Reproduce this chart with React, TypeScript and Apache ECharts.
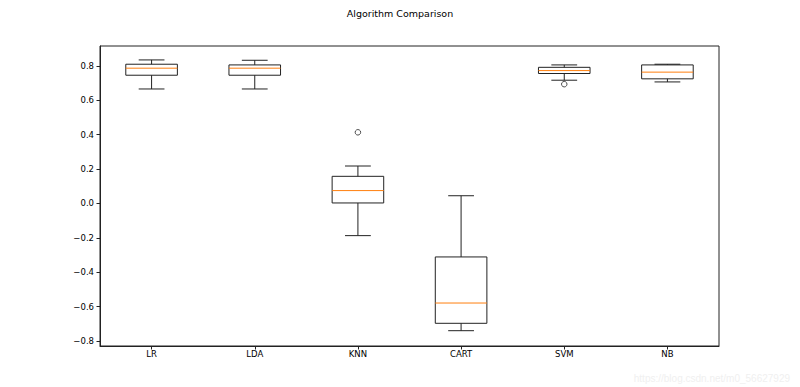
import React, { useEffect, useRef } from "react";
import * as echarts from "echarts";

const categories = ["LR", "LDA", "KNN", "CART", "SVM", "NB"];
// [whisker low, Q1, median, Q3, whisker high]
const lowWhisker = [0.666, 0.666, -0.187, -0.74, 0.717, 0.707];
const q1 = [0.746, 0.746, 0.003, -0.697, 0.756, 0.725];
const median = [0.787, 0.787, 0.075, -0.579, 0.773, 0.764];
const q3 = [0.81, 0.806, 0.158, -0.311, 0.792, 0.806];
const highWhisker = [0.835, 0.833, 0.218, 0.045, 0.806, 0.81];
const outliers: [string, number][] = [
  ["KNN", 0.414],
  ["SVM", 0.694],
];
const yTicks = [-0.8, -0.6, -0.4, -0.2, 0.0, 0.2, 0.4, 0.6, 0.8];

const FONT = "DejaVu Sans";

export default function App() {
  const ref = useRef<HTMLDivElement>(null);
  useEffect(() => {
    if (!ref.current) return;
    const chart = echarts.init(ref.current, null, { renderer: "svg" });
    const boxData = categories.map((_, i) => [
      i,
      lowWhisker[i],
      q1[i],
      median[i],
      q3[i],
      highWhisker[i],
    ]);
    const lineStyle = { stroke: "#222", lineWidth: 1, fill: "none" };
    chart.setOption({
      animation: false,
      backgroundColor: "#fff",
      title: {
        text: "Algorithm Comparison",
        left: "center",
        top: 3,
        textStyle: { fontFamily: FONT, fontSize: 9.5, fontWeight: "normal", color: "#000" },
      },
      grid: {
        left: 100,
        right: 81,
        top: 46,
        bottom: 41,
        show: true,
        borderColor: "#222",
        borderWidth: 1,
        backgroundColor: "transparent",
      },
      xAxis: {
        type: "category",
        data: categories,
        boundaryGap: true,
        axisLine: { show: true, onZero: false, lineStyle: { color: "#222", width: 1 } },
        axisTick: { show: true, alignWithLabel: true, length: 3.5, lineStyle: { color: "#222" } },
        axisLabel: { color: "#000", fontFamily: FONT, fontSize: 8.5, margin: 3 },
        splitLine: { show: false },
      },
      yAxis: {
        type: "value",
        min: -0.829,
        max: 0.916,
        axisLine: { show: true, lineStyle: { color: "#222", width: 1 } },
        axisTick: { show: true, length: 3.5, customValues: yTicks, lineStyle: { color: "#222" } },
        axisLabel: {
          color: "#000",
          fontFamily: FONT,
          fontSize: 8.5,
          margin: 6,
          customValues: yTicks,
          formatter: (v: number) => v.toFixed(1).replace("-", "\u2212"),
        },
        splitLine: { show: false },
      },
      series: [
        {
          type: "custom",
          data: boxData,
          encode: { x: 0, y: [1, 2, 3, 4, 5] },
          renderItem: (params: any, api: any) => {
            const idx = api.value(0);
            const lo = api.coord([idx, api.value(1)]);
            const b1 = api.coord([idx, api.value(2)]);
            const md = api.coord([idx, api.value(3)]);
            const b3 = api.coord([idx, api.value(4)]);
            const hi = api.coord([idx, api.value(5)]);
            const bw = api.size([1, 0])[0] * 0.5;
            const cw = bw * 0.5;
            const cx = lo[0];
            return {
              type: "group",
              children: [
                { type: "line", shape: { x1: cx, y1: hi[1], x2: cx, y2: b3[1] }, style: lineStyle },
                { type: "line", shape: { x1: cx, y1: b1[1], x2: cx, y2: lo[1] }, style: lineStyle },
                { type: "line", shape: { x1: cx - cw / 2, y1: hi[1], x2: cx + cw / 2, y2: hi[1] }, style: lineStyle },
                { type: "line", shape: { x1: cx - cw / 2, y1: lo[1], x2: cx + cw / 2, y2: lo[1] }, style: lineStyle },
                {
                  type: "rect",
                  shape: { x: cx - bw / 2, y: b3[1], width: bw, height: b1[1] - b3[1] },
                  style: lineStyle,
                },
                {
                  type: "line",
                  shape: { x1: cx - bw / 2, y1: md[1], x2: cx + bw / 2, y2: md[1] },
                  style: { stroke: "#ff7f0e", lineWidth: 1 },
                },
              ],
            };
          },
        },
        {
          type: "scatter",
          data: outliers,
          symbol: "circle",
          symbolSize: 5.5,
          itemStyle: { color: "#fff", borderColor: "#222", borderWidth: 1 },
        },
      ],
      graphic: [
        {
          type: "text",
          right: 10,
          bottom: 4,
          style: {
            text: "https://blog.csdn.net/m0_56627929",
            fill: "#f0f0f0",
            fontFamily: "Liberation Sans",
            fontSize: 10,
          },
        },
      ],
    });
    return () => chart.dispose();
  }, []);
  return <div ref={ref} style={{ width: 800, height: 387, position: "fixed", left: 0, top: 0 }} />;
}
